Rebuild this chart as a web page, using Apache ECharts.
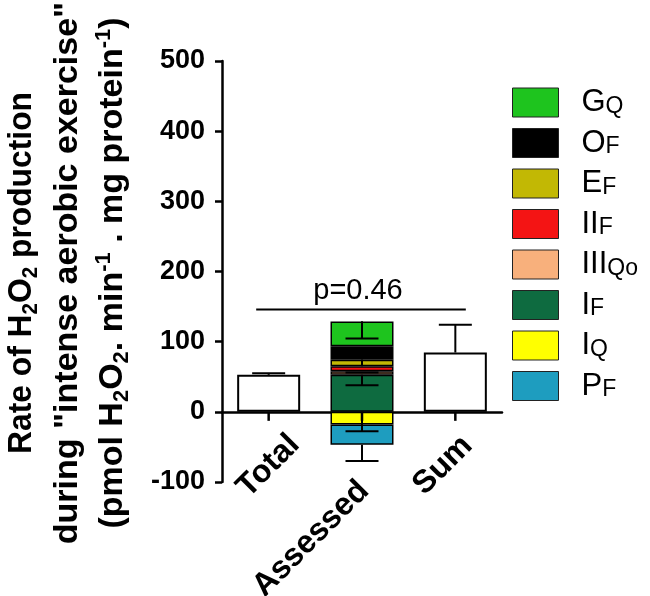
<!DOCTYPE html>
<html>
<head>
<meta charset="utf-8">
<script src="https://cdn.jsdelivr.net/npm/echarts@6/dist/echarts.min.js"></script>
<style>
html,body{margin:0;padding:0;background:#fff;}
#chart{width:650px;height:596px;}
</style>
</head>
<body>
<div id="chart"></div>
<script>
// ---- data ----
const categories = ['Total', 'Assessed', 'Sum'];
const plainBarValues = [52.7, '-', 84.5];
const stackNames = ['I_F', 'III_Qo', 'II_F', 'E_F', 'O_F', 'G_Q', 'I_Q', 'P_F'];
const stackValues = [53, 4.7, 7.2, 9.5, 18.9, 35.6, -18, -29];
const stackColors = ['#0e6b40', '#f8b07c', '#f41414', '#c2b804', '#000000', '#1ec41e', '#ffff00', '#1e9dbf'];
const legendOrder = ['G_Q', 'O_F', 'E_F', 'II_F', 'III_Qo', 'I_F', 'I_Q', 'P_F'];
// [category index, from, to, cap at "to" (1/0)]
const errorBars = [
  [0, 52.7, 55, 1],
  [2, 84.5, 124, 1],
  [1, 129, 104.4, 1],
  [1, 65, 74.5, 0],
  [1, 56, 56, 1],
  [1, 53, 38, 1],
  [1, 0, -27.6, 1],
  [1, -47, -70, 1]
];
const yMin = -100, yMax = 500, yInterval = 100;
const pValueText = 'p=0.46';
const bracketValue = 146;
const titleLines = [
  '{a|Rate of H}{b|2}{a|O}{b|2}{a| production}',
  '{a|during "intense aerobic exercise"}',
  '{a|(pmol H}{b|2}{a|O}{b|2}{a|. min}{c|-1}{a| . mg protein}{c|-1}{a|)}'
];

// ---- chart ----
const chart = echarts.init(document.getElementById('chart'));
const FONT = '"Liberation Sans", Arial, sans-serif';

const titleRich = {
  a: { fontSize: 34, fontWeight: 'bold', fontFamily: FONT, color: '#000', lineHeight: 40 },
  b: { fontSize: 22, fontWeight: 'bold', fontFamily: FONT, color: '#000', lineHeight: 22, verticalAlign: 'bottom' },
  c: { fontSize: 22, fontWeight: 'bold', fontFamily: FONT, color: '#000', lineHeight: 22, verticalAlign: 'top' }
};
const titleX = [22, 68, 113];
const titleStretch = [0.935, 1, 1];

// lowest drawn value per category (for placing the category labels below the marks)
const lowestPerCategory = categories.map((c, i) => {
  let low = 0;
  errorBars.forEach(e => { if (e[0] === i) low = Math.min(low, e[1], e[2]); });
  return low;
});
// label anchor shift (px) from the lowest point of each category
const labelShift = [[26, 28], [2, 25], [12, 29]];

const series = [];
series.push({
  name: 'base', type: 'bar', stack: 'a', barWidth: 63,
  data: plainBarValues,
  itemStyle: { color: '#fff', borderColor: '#000', borderWidth: 2 }
});
stackNames.forEach((n, i) => {
  series.push({
    name: n, type: 'bar', stack: 'a', barWidth: 63,
    data: categories.map((c, j) => j === 1 ? stackValues[i] : '-'),
    itemStyle: { color: stackColors[i], borderColor: '#000', borderWidth: 1.5 }
  });
});
series.push({
  name: 'err', type: 'custom', z: 5, clip: false,
  data: errorBars,
  encode: { x: 0, y: [1, 2] },
  renderItem: function (params, api) {
    const cat = api.value(0);
    const p1 = api.coord([cat, api.value(1)]);
    const p2 = api.coord([cat, api.value(2)]);
    const half = 16.5;
    const st = { stroke: '#000', lineWidth: 2 };
    const children = [{ type: 'line', shape: { x1: p1[0], y1: p1[1], x2: p2[0], y2: p2[1] }, style: st }];
    if (api.value(3)) {
      children.push({ type: 'line', shape: { x1: p2[0] - half, y1: p2[1], x2: p2[0] + half, y2: p2[1] }, style: st });
    }
    return { type: 'group', children: children };
  }
});
series.push({
  name: 'bracket', type: 'custom', z: 5,
  data: [[1, bracketValue]],
  encode: { x: 0, y: 1 },
  renderItem: function (params, api) {
    const c = api.coord([api.value(0), api.value(1)]);
    const bw = api.size([1, 0])[0];
    const hw = bw * 1.123;
    return {
      type: 'group', children: [
        { type: 'line', shape: { x1: c[0] - hw - 1, y1: c[1], x2: c[0] + hw - 1, y2: c[1] }, style: { stroke: '#000', lineWidth: 2 } },
        { type: 'text', x: c[0] - 4, y: c[1] - 18, style: { text: pValueText, font: '29px ' + FONT, fill: '#000', align: 'center', verticalAlign: 'middle' } }
      ]
    };
  }
});
// category labels + tick marks at the zero line
series.push({
  name: 'xlabels', type: 'custom', z: 6, clip: false,
  data: categories.map((c, i) => [i, lowestPerCategory[i]]),
  encode: { x: 0, y: 1 },
  renderItem: function (params, api) {
    const i = api.value(0);
    const p = api.coord([i, api.value(1)]);
    const z0 = api.coord([i, 0]);
    return {
      type: 'group', children: [
        { type: 'rect', shape: { x: z0[0] - 1.25, y: z0[1], width: 2.5, height: 9 }, style: { fill: '#000' } },
        {
          type: 'text', x: p[0] + labelShift[i][0], y: p[1] + labelShift[i][1], rotation: Math.PI / 4,
          style: { text: categories[i], font: 'bold 32px ' + FONT, fill: '#000', align: 'right', verticalAlign: 'middle' }
        }
      ]
    };
  }
});

const option = {
  backgroundColor: '#fff',
  animation: false,
  grid: { left: 222, right: 148, top: 61, bottom: 114, containLabel: false },
  xAxis: {
    type: 'category', data: categories,
    axisLine: { onZero: true, lineStyle: { color: '#000', width: 2.5 } },
    axisTick: { show: false },
    axisLabel: { show: false }
  },
  yAxis: {
    type: 'value', min: yMin, max: yMax, interval: yInterval,
    splitLine: { show: false },
    axisLine: { show: true, lineStyle: { color: '#000', width: 2.5 } },
    axisTick: { show: true, length: 7, lineStyle: { color: '#000', width: 2.5 } },
    axisLabel: { fontSize: 27, fontWeight: 'bold', fontFamily: FONT, color: '#000', margin: 17 }
  },
  legend: {
    orient: 'vertical', left: 512, top: 83, padding: 0,
    itemWidth: 46, itemHeight: 29, itemGap: 5.5,
    icon: 'rect',
    data: legendOrder,
    selectedMode: false,
    itemStyle: { borderColor: '#222', borderWidth: 1 },
    formatter: function (name) {
      const parts = name.split('_');
      return '{m|' + parts[0] + '}{s|' + parts[1] + '}';
    },
    textStyle: {
      rich: {
        m: { fontSize: 31, fontFamily: FONT, color: '#000', lineHeight: 31, verticalAlign: 'top', padding: [0, 0, 0, 18] },
        s: { fontSize: 23, fontFamily: FONT, color: '#000', lineHeight: 23, verticalAlign: 'bottom', padding: [12, 0, 0, 0] }
      }
    }
  },
  graphic: titleLines.map((t, i) => ({
    type: 'text', x: titleX[i], y: 273, rotation: Math.PI / 2, scaleX: titleStretch[i],
    style: { text: t, rich: titleRich, align: 'center', verticalAlign: 'middle' }
  })),
  series: series
};
chart.setOption(option);
</script>
</body>
</html>
